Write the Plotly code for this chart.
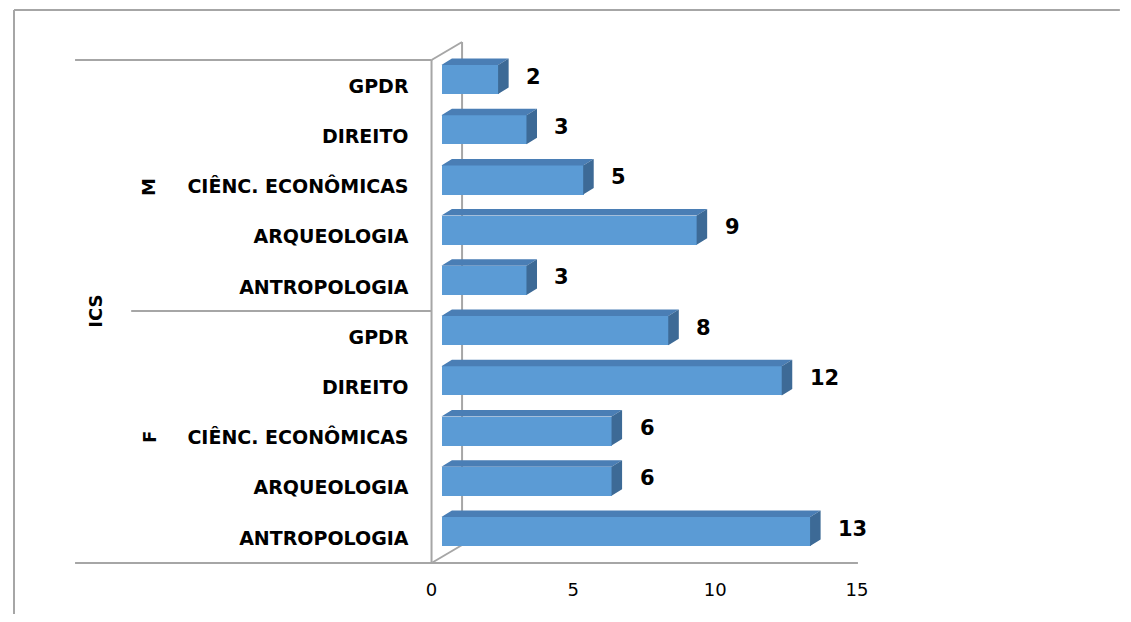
import plotly.graph_objects as go

# dados do gráfico (de baixo para cima)
grupos = ['F', 'M']
cursos = ['ANTROPOLOGIA', 'ARQUEOLOGIA', 'CIÊNC. ECONÔMICAS', 'DIREITO', 'GPDR']
valores_f = [13, 6, 6, 12, 8]
valores_m = [3, 9, 5, 3, 2]
titulo_geral = 'ICS'
ticks_x = [0, 5, 10, 15]

# a página tem margem de 8px em volta da figura
OX, OY = 8, 8
W, H = 1131 - 2 * OX, 622 - 2 * OY
cinza = '#A6A6A6'
azul = '#5B9BD5'
azul_topo = '#4A7EB5'
azul_lado = '#3D6A96'

rotulos = cursos + cursos
valores = valores_f + valores_m
idx = list(range(len(valores)))

# escala em pixels (coordenadas da janela)
x0_px, x15_px = 432, 864
px_x = (x15_px - x0_px) / 15.0
px_y = 50.22
y_base = 563
dx = 10.7 / px_x    # profundidade das barras
dy = 6.5 / px_y
h = 0.58            # altura da face frontal


def P(px, py):
    return (px - OX) / W, 1 - (py - OY) / H


fig = go.Figure()

# traço invisível só para manter os eixos principais
fig.add_trace(go.Scatter(x=valores, y=idx, mode='markers', marker=dict(opacity=0),
                         showlegend=False, hoverinfo='skip'))

# face frontal
fig.add_trace(go.Bar(
    x=valores, y=idx, orientation='h', width=h,
    marker=dict(color=azul, line=dict(width=0)),
    xaxis='x2', yaxis='y2', showlegend=False, hoverinfo='skip'
))

# faces de cima e do lado
tx, ty, sx, sy = [], [], [], []
for i, v in zip(idx, valores):
    t = i + h / 2
    b = i - h / 2
    tx += [0, v, v + dx, dx, 0, None]
    ty += [t, t, t + dy, t + dy, t, None]
    sx += [v, v, v + dx, v + dx, v, None]
    sy += [b, t, t + dy, b + dy, b, None]

fig.add_trace(go.Scatter(x=tx, y=ty, fill='toself', fillcolor=azul_topo,
                         mode='lines', line=dict(width=0), xaxis='x2', yaxis='y2',
                         showlegend=False, hoverinfo='skip'))
fig.add_trace(go.Scatter(x=sx, y=sy, fill='toself', fillcolor=azul_lado,
                         mode='lines', line=dict(width=0), xaxis='x2', yaxis='y2',
                         showlegend=False, hoverinfo='skip'))

# rótulos de valor
anots = []
for i, v in zip(idx, valores):
    anots.append(dict(x=v, y=i, xref='x2', yref='y2', text='<b>%d</b>' % v,
                      showarrow=False, xanchor='left', yanchor='middle',
                      xshift=26, yshift=3,
                      font=dict(family='DejaVu Sans', size=21, color='black')))

# rótulos dos grupos
for g, (gx, gy) in zip(grupos + [titulo_geral], [(145, 437), (145, 187), (90, 311)]):
    px_, py_ = P(gx, gy)
    anots.append(dict(x=px_, y=py_, xref='paper', yref='paper', text='<b>%s</b>' % g,
                      showarrow=False, textangle=-90, xanchor='center', yanchor='middle',
                      font=dict(family='DejaVu Sans', size=18, color='black')))

# linhas do quadro / paredes
linhas = [
    ((8, 10), (1131, 10)),
    ((8, 10), (8, 622)),
    ((70, 60), (432, 60)),
    ((127, 311), (432, 311)),
    ((70, 563), (865, 563)),
    ((432, 60), (432, 563)),
    ((432, 60), (463, 42)),
    ((463, 42), (463, 546)),
    ((432, 563), (463, 545)),
]
shapes = []
for (ax_, ay_), (bx_, by_) in linhas:
    xa, ya = P(ax_, ay_)
    xb, yb = P(bx_, by_)
    shapes.append(dict(type='line', xref='paper', yref='paper', x0=xa, y0=ya, x1=xb, y1=yb,
                       line=dict(color=cinza, width=2), layer='below'))

yb_fig = y_base - OY
dom_y = [(H - yb_fig) / H, 1]
altura = yb_fig / px_y
r0 = -(y_base - 538) / px_y
r0b = -(y_base - 531.5) / px_y
off = (442 - x0_px) / px_x
dom_x = [(x0_px - OX) / W, (x15_px - OX) / W]

fig.update_layout(
    width=W, height=H,
    margin=dict(l=0, r=0, t=0, b=0),
    paper_bgcolor='white', plot_bgcolor='rgba(0,0,0,0)',
    bargap=0, showlegend=False,
    xaxis=dict(domain=dom_x, range=[0, 15], tickvals=ticks_x,
               showgrid=False, zeroline=False, showline=False, ticks='',
               ticklabelstandoff=14,
               tickfont=dict(family='DejaVu Sans', size=18, color='black'), fixedrange=True),
    yaxis=dict(domain=dom_y, range=[r0, r0 + altura], tickvals=idx,
               ticktext=['<b>%s</b>' % r for r in rotulos],
               showgrid=False, zeroline=False, showline=False, ticks='',
               ticklabelstandoff=22,
               tickfont=dict(family='DejaVu Sans', size=19, color='black'), fixedrange=True),
    xaxis2=dict(domain=dom_x, range=[-off, 15 - off], overlaying='x',
                visible=False, fixedrange=True),
    yaxis2=dict(domain=dom_y, range=[r0b, r0b + altura], overlaying='y', anchor='x2',
                visible=False, fixedrange=True),
    annotations=anots,
    shapes=shapes,
)

fig.write_html("out.html")
